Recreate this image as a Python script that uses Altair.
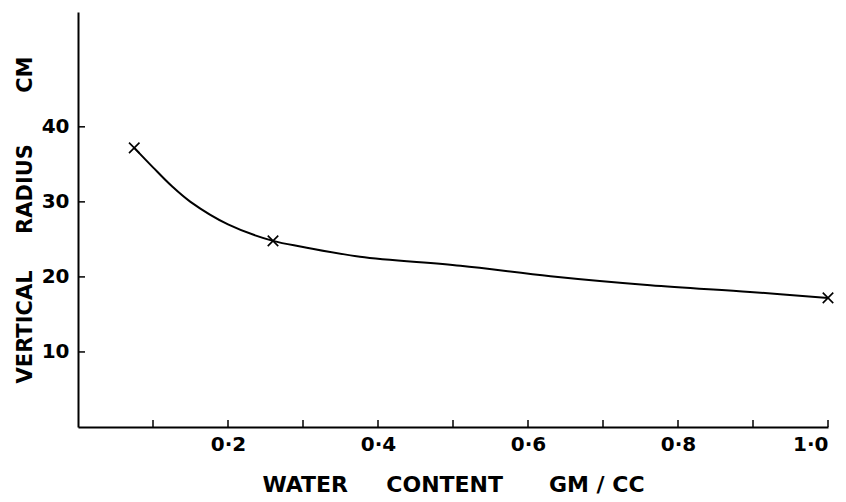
import altair as alt
import pandas as pd

# Curve
curve_x = [0.075, 0.10, 0.125, 0.15, 0.20, 0.26, 0.30, 0.376, 0.51, 0.63, 0.763, 0.896, 1.0]
curve_y = [37.2, 34.6, 32.1, 30.0, 27.0, 24.8, 24.0, 22.7, 21.5, 20.1, 18.9, 18.0, 17.2]

# Measured points (x markers)
pts_x = [0.075, 0.26, 1.0]
pts_y = [37.2, 24.8, 17.2]

# Axis ticks / labels
x_label_values = [0.2, 0.4, 0.6, 0.8, 1.0]
x_tick_values = [0.1, 0.2, 0.3, 0.4, 0.5, 0.6, 0.7, 0.8, 0.9, 1.0]
y_tick_values = [10, 20, 30, 40]

W, H = 750, 415
FONT = "DejaVu Sans"
NB = "\u00a0"

curve_df = pd.DataFrame({"x": curve_x, "y": curve_y})
pts_df = pd.DataFrame({"x": pts_x, "y": pts_y})
xt_df = pd.DataFrame({"x": x_tick_values})
yt_df = pd.DataFrame({"y": y_tick_values})

xscale = alt.Scale(domain=[0, 1.0], nice=False, zero=False)
yscale = alt.Scale(domain=[0, 55.3], nice=False, zero=False)

xaxis = alt.Axis(
    values=x_label_values,
    ticks=False,
    grid=False,
    domainColor="black",
    domainWidth=2,
    labelFont=FONT,
    labelFontWeight="bold",
    labelFontSize=20,
    labelColor="black",
    labelPadding=7,
    labelExpr="replace(format(datum.value, '.1f'), '.', '·')",
    title=f"WATER{NB*5}CONTENT{NB*6}GM / CC",
    titleFont=FONT,
    titleFontWeight="bold",
    titleFontSize=22,
    titleColor="black",
    titlePadding=20,
)
yaxis = alt.Axis(
    values=y_tick_values,
    ticks=False,
    grid=False,
    domainColor="black",
    domainWidth=2,
    labelFont=FONT,
    labelFontWeight="bold",
    labelFontSize=20,
    labelColor="black",
    labelPadding=9,
    title=f"VERTICAL{NB*5}RADIUS{NB*7}CM",
    titleFont=FONT,
    titleFontWeight="bold",
    titleFontSize=21,
    titleColor="black",
    titleAngle=270,
    titleBaseline="alphabetic",
    titleAlign="center",
    titleX=-47,
    titleY=H / 2,
)

line = alt.Chart(curve_df).mark_line(
    color="black", strokeWidth=2, interpolate="catmull-rom"
).encode(
    x=alt.X("x:Q", scale=xscale, axis=xaxis),
    y=alt.Y("y:Q", scale=yscale, axis=yaxis),
)

marks = alt.Chart(pts_df).mark_point(
    shape="M-1,-1L1,1M-1,1L1,-1",
    filled=False,
    color="black",
    strokeWidth=1.6,
    size=110,
    opacity=1,
).encode(
    x=alt.X("x:Q", scale=xscale),
    y=alt.Y("y:Q", scale=yscale),
)

xticks = alt.Chart(xt_df).mark_rule(color="black", strokeWidth=1.5).encode(
    x=alt.X("x:Q", scale=xscale),
    y=alt.value(H),
    y2=alt.value(H - 7),
)

yticks = alt.Chart(yt_df).mark_rule(color="black", strokeWidth=1.5).encode(
    y=alt.Y("y:Q", scale=yscale),
    x=alt.value(0),
    x2=alt.value(7),
)

chart = alt.layer(line, marks, xticks, yticks).properties(
    width=W,
    height=H,
    autosize=alt.AutoSizeParams(type="none"),
    padding={"left": 70, "top": 4, "right": 10, "bottom": 70},
    background="white",
).configure_view(stroke=None)

chart.save("out.html", embed_options={"renderer": "svg", "actions": False})
